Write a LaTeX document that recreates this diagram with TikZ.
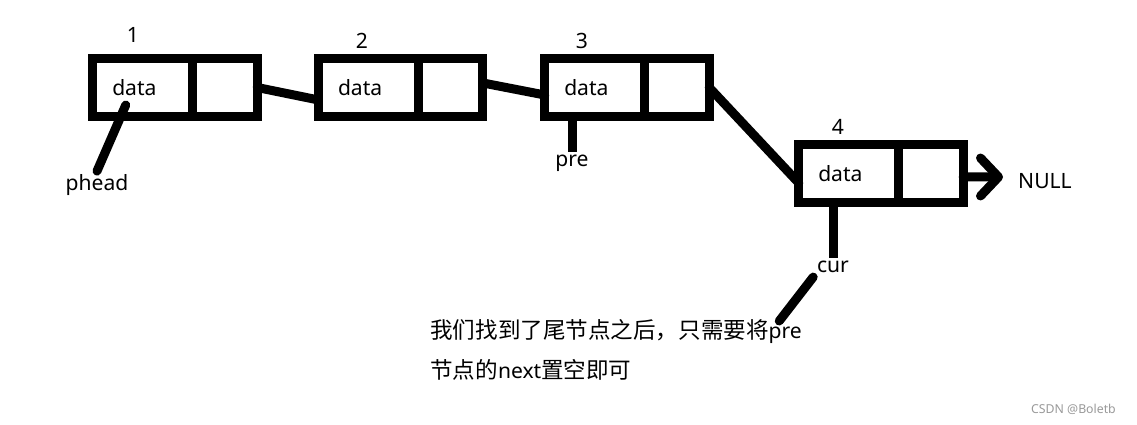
\documentclass[tikz,border=0pt]{standalone}
\usepackage{fontspec}
\setmainfont{Noto Sans}
\newfontfamily\cjk[Scale=1.07]{Noto Sans CJK SC}
\usetikzlibrary{positioning,arrows.meta}

\tikzset{
    cell/.style={draw, line width=0.18cm, outer sep=0pt, inner sep=0pt, minimum height=1.16cm},
    datacell/.style={cell, text width=1.22cm, inner xsep=0.39cm, align=left},
    ptrcell/.style={cell, minimum width=1.29cm},
    link/.style={line width=0.18cm, line cap=round},
    stem/.style={line width=0.18cm, line cap=butt},
    tag/.style={inner sep=2pt, anchor=base},
}

\begin{document}
\begin{tikzpicture}[x=0.02cm, y=-0.02cm, font=\fontsize{12}{22.8}\selectfont]
    \useasboundingbox (0,0) rectangle (1137,425);

    \foreach \i/\x/\y/\nx/\ny in {1/142.75/87.5/133/43, 2/368.5/87.5/362/49,
                                  3/594.75/87.5/582/49, 4/848.75/173.5/838/135}{
        \node[datacell] (d\i) at (\x,\y) {data};
        \node[ptrcell, right=0pt of d\i] (p\i) {};
        \node[tag] (n\i) at (\nx,\ny) {\i};
    }

    \draw [link] (p1.east) -- ([yshift=-0.25cm]d2.west);
    \draw [link] ([yshift=0.09cm]p2.east) -- ([yshift=-0.15cm]d3.west);
    \draw [link] (p3.east) -- ([yshift=-0.19cm]d4.west);

    \node[tag] (nul) at (1045,189) {NULL};
    \coordinate (nulend) at (1003,177);
    \draw [link, -{Straight Barb[length=0.36cm, width=0.76cm, round]}]
        ([yshift=-0.07cm]p4.east) -- (nulend);

    \node[tag] (phead) at (97,191) {phead};
    \draw [link] (phead.north) -- ([shift={(-0.34cm,-0.35cm)}]d1.center);

    \node[tag] (pre) at (572,167) {pre};
    \draw [stem] (pre.north) -- (pre.north |- d3.south);

    \node[tag] (cur) at (833,273) {cur};
    \draw [stem] (cur.north) -- (cur.north |- d4.south);

    \node[anchor=north west, inner sep=0pt, align=left] (note) at (430,319)
        {{\cjk 我们找到了尾节点之后，只需要将}pre\\{\cjk 节点的}next{\cjk 置空即可}};
    \draw [link] (cur.south west) -- ([xshift=-0.46cm,yshift=-0.04cm]note.north east);

    \node[anchor=base east, font=\fontsize{7}{8}\selectfont, text=black!40] (mark) at (1122,414) {CSDN @Boletb};
\end{tikzpicture}
\end{document}
